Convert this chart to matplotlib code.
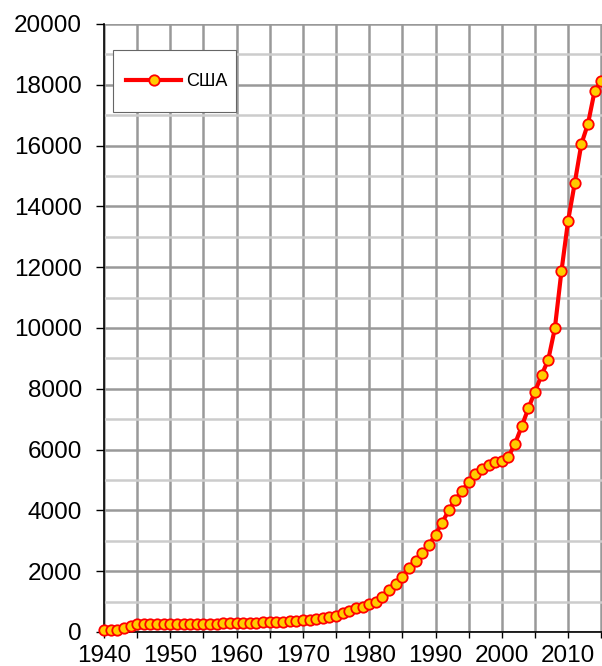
import numpy as np
import matplotlib.pyplot as plt
from matplotlib.ticker import MultipleLocator
from matplotlib.patches import Rectangle

# US gross federal debt, billions of dollars
years = list(range(1940, 2016))
debt = [50.7, 57.5, 79.2, 142.6, 204.1, 260.1, 271.0, 257.1, 252.0, 252.6,
        256.9, 255.3, 259.1, 266.0, 270.8, 274.4, 272.7, 272.3, 279.7, 287.5,
        290.5, 292.6, 302.9, 310.3, 316.1, 322.3, 328.5, 340.4, 368.7, 365.8,
        380.9, 408.2, 435.9, 466.3, 483.9, 541.9, 629.0, 706.4, 776.6, 829.5,
        909.0, 994.8, 1137.3, 1371.7, 1564.6, 1817.4, 2120.5, 2346.0, 2601.1, 2867.8,
        3206.3, 3598.2, 4001.8, 4351.0, 4643.3, 4920.6, 5181.5, 5369.2, 5478.2, 5605.5,
        5628.7, 5769.9, 6198.4, 6760.0, 7354.7, 7905.3, 8451.4, 8950.7, 9986.1, 11875.9,
        13528.8, 14764.2, 16050.9, 16719.4, 17794.5, 18120.1]
series_name = "США"
xtick_years = list(range(1940, 2016, 5))

plt.rcParams['font.family'] = ['Liberation Sans', 'DejaVu Sans']

fig = plt.figure(figsize=(6.02, 6.66), dpi=100)
ax = fig.add_axes([104 / 602, 34 / 666, 498 / 602, 608 / 666])

ax.plot(years, debt, color='red', lw=3, marker='o', markersize=7.5,
        markerfacecolor='#FFCC00', markeredgecolor='red', markeredgewidth=1.3,
        label=series_name, clip_on=False, zorder=5)

ax.set_xlim(1940, 1940 + 498 / 6.63)
ax.set_ylim(0, 20000)
ax.yaxis.set_major_locator(MultipleLocator(2000))
ax.yaxis.set_minor_locator(MultipleLocator(1000))
ax.set_xticks(xtick_years)
ax.set_xticklabels([str(y) if y % 10 == 0 else '' for y in xtick_years])

ax.grid(which='major', axis='both', color='#999999', lw=1.8)
ax.grid(which='minor', axis='y', color='#cccccc', lw=1.8)
ax.set_axisbelow(True)

ax.tick_params(axis='y', which='major', labelsize=17.5, length=6, width=1,
               direction='out', color='black', pad=10)
ax.tick_params(axis='x', which='major', labelsize=17.5, length=4, width=1,
               direction='out', color='black', pad=5)
ax.tick_params(axis='y', which='minor', length=0)

for s in ['top', 'right']:
    ax.spines[s].set_visible(False)
ax.spines['left'].set_linewidth(1.2)
ax.spines['bottom'].set_linewidth(1.2)

# legend box
ax.add_patch(Rectangle((9 / 498, 1 - 88 / 608), 123 / 498, 62 / 608,
                       transform=ax.transAxes, facecolor='white',
                       edgecolor='#666666', lw=0.8, zorder=6))
leg = ax.legend(loc='center left', bbox_to_anchor=(22 / 498, 1 - 58 / 608),
                fontsize=13, frameon=False, handlelength=3.05,
                borderpad=0, handletextpad=0.28, borderaxespad=0)
leg.set_zorder(7)

plt.savefig('out.png', dpi=100)
